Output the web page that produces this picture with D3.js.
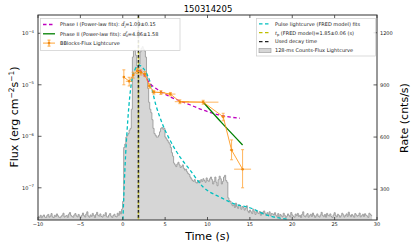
<!DOCTYPE html>
<html>
<head>
<meta charset="utf-8">
<script src="https://cdn.jsdelivr.net/npm/d3@7"></script>
<style>
  body { margin: 0; background: #fff; }
  svg { font-family: "DejaVu Sans", sans-serif; }
</style>
</head>
<body>
<svg id="chart" width="415" height="249"></svg>
<script>
// 128-ms counts lightcurve (cnts/s), bins start at -10 s
const binStart = -10, binWidth = 0.128;
const counts = [
  142,138,150,136,145,152,140,137,148,155,139,146,160,141,137,150,143,158,147,139,
  136,144,151,162,140,145,149,138,157,166,150,143,139,152,160,147,141,155,145,138,
  150,163,148,140,157,170,146,139,152,144,161,149,137,154,167,150,145,158,143,140,
  153,148,165,142,139,151,160,145,138,149,156,144,141,162,150,172,158,185,
  230,540,560,600,610,620,640,650,760,1060,1095,1100,1070,1010,1000,1020,
  1090,1110,1120,1105,1095,1060,950,880,800,760,740,700,650,620,610,600,
  600,610,630,650,655,645,650,600,590,580,570,560,540,510,490,
  450,440,430,445,455,440,425,430,440,420,410,415,400,390,385,
  370,360,350,345,355,340,335,345,350,
  340,355,345,360,350,340,365,350,345,360,370,355,
  330,345,370,340,320,355,375,360,330,345,370,380,350,340,
  250,235,230,
  215,205,210,195,220,200,190,210,205,185,200,195,180,190,205,
  175,165,180,170,160,185,170,155,175,165,160,172,150,168,158,175,162,150,165,155,170,148,160,158,152,165,
  150,142,160,138,155,147,141,162,150,137,145,158,149,140,166,152,144,139,157,148,
  161,143,150,137,155,170,146,141,152,160,139,148,156,143,163,150,138,147,158,145,
  140,152,167,149,142,155,139,161,150,146,158,143,137,152,165,148,141,156,150,139,
  147,162,153,140,149,158,144,168,151,142,155,147,139,160,152,145,150,163,141,
  148,156,143,159,150,146,138,162,155,148
];

// BBlocks flux points (erg cm^-2 s^-1)
const bbTime   = [0.13, 0.76, 1.23, 1.72, 2.14, 2.6, 3.14, 3.67, 4.5, 5.62, 6.74, 9.49, 11.85, 12.84, 14.14];
const bbTimeLo = [0.1, 0.4, 0.15, 0.2, 0.2, 0.25, 0.25, 0.3, 0.5, 0.6, 0.6, 2.7, 0.25, 0.2, 1.0];
const bbTimeHi = [0.1, 0.4, 0.15, 0.2, 0.2, 0.25, 0.25, 0.3, 0.5, 0.6, 1.1, 1.8, 0.25, 0.2, 1.0];
const bbFlux   = [1.41e-5, 1.17e-5, 1.55e-5, 1.86e-5, 1.74e-5, 1.62e-5, 9.5e-6, 7.2e-6, 7.1e-6, 6.6e-6, 4.7e-6, 4.6e-6, 2.4e-6, 5.4e-7, 2.3e-7];
const bbFluxLo = [1.0e-5, 0.95e-5, 1.35e-5, 1.65e-5, 1.55e-5, 1.45e-5, 8.6e-6, 6.6e-6, 6.5e-6, 6.1e-6, 4.3e-6, 4.2e-6, 2.0e-6, 3.5e-7, 1.0e-7];
const bbFluxHi = [1.95e-5, 1.4e-5, 1.75e-5, 2.05e-5, 1.95e-5, 1.8e-5, 1.05e-5, 7.8e-6, 7.7e-6, 7.1e-6, 5.1e-6, 5.0e-6, 2.8e-6, 8.5e-7, 5.5e-7];

// FRED pulse fit
const fredTime = [0.02, 0.25, 0.6, 1.07, 1.43, 1.9, 2.37, 3.2, 3.9, 4.73, 5.56, 6.74, 7.92, 9.45, 11.46, 13.5, 15.0, 17.0, 19.4];
const fredFlux = [2.4e-8, 2.2e-7, 2.1e-6, 1.23e-5, 1.95e-5, 2.4e-5, 2.14e-5, 1.17e-5, 4.1e-6, 1.66e-6, 8.5e-7, 4.0e-7, 2.24e-7, 1.05e-7, 6.6e-8, 4.7e-8, 4.1e-8, 2.95e-8, 2.45e-8];

// Phase I / Phase II power-law fits
const p1Time = [2.0, 2.6, 3.2, 4.38, 5.56, 7.92, 9.45, 11.46, 13.82];
const p1Flux = [1.95e-5, 1.48e-5, 1.07e-5, 7.6e-6, 5.9e-6, 4.1e-6, 3.24e-6, 2.57e-6, 2.24e-6];
const p2Time = [9.49, 11.8, 14.14];
const p2Flux = [4.6e-6, 1.74e-6, 6.8e-7];

const tPeak = 1.85;
const xTicks = [-10, -5, 0, 5, 10, 15, 20, 25, 30];
const yTicksL = [-7, -6, -5, -4];
const yTicksR = [300, 600, 900, 1200];

const legendLeft = [
  { key: "p1", label: "Phase I (Power-law fits): ", val: "=1.09\u00b10.15", sub: "I" },
  { key: "p2", label: "Phase II (Power-law fits): ", val: "=4.86\u00b11.58", sub: "II" },
  { key: "bb", label: "BBlocks-Flux Lightcurve" }
];
const legendRight = [
  { key: "fred", label: "Pulse lightcurve (FRED model) fits" },
  { key: "tp", label: " (FRED model)=1.85\u00b10.06 (s)" },
  { key: "decay", label: "Used decay time" },
  { key: "hist", label: "128-ms Counts-Flux Lightcurve" }
];

const svg = d3.select("#chart");
const L = 38, R = 377, T = 15, B = 220;

const x = d3.scaleLinear().domain([-10, 30]).range([L, R]);
const yL = d3.scaleLog().domain([Math.pow(10, -7.625), Math.pow(10, -3.645)]).range([B, T]);
const yR = d3.scaleLinear().domain([123, 1302]).range([B, T]);

const col = { m: "#bf00bf", g: "#008000", c: "#00bfbf", y: "#bfbf00", o: "#ff9a1f" };

const plot = svg.append("g");
svg.append("clipPath").attr("id", "clip").append("rect")
  .attr("x", L).attr("y", T).attr("width", R - L).attr("height", B - T);
plot.attr("clip-path", "url(#clip)");

// histogram (step)
const steps = [];
counts.forEach((c, i) => {
  const t0 = binStart + i * binWidth;
  steps.push([t0, c], [t0 + binWidth, c]);
});
const area = d3.area().x(d => x(d[0])).y0(B).y1(d => yR(d[1]));
const line = d3.line().x(d => x(d[0])).y(d => yR(d[1]));
plot.append("path").attr("d", area(steps)).attr("fill", "#d6d6d6");
plot.append("path").attr("d", line(steps)).attr("fill", "none")
  .attr("stroke", "#9a9a9a").attr("stroke-width", 0.9);

// FRED fit
const fl = d3.line().x(d => x(d[0])).y(d => yL(d[1])).curve(d3.curveMonotoneX);
plot.append("path").attr("d", fl(d3.zip(fredTime, fredFlux)))
  .attr("fill", "none").attr("stroke", col.c).attr("stroke-width", 1.3)
  .attr("stroke-dasharray", "3.5,2.5");

// peak time / decay time lines
plot.append("line").attr("x1", x(tPeak)).attr("x2", x(tPeak)).attr("y1", T).attr("y2", B)
  .attr("stroke", "#222").attr("stroke-width", 1.5).attr("stroke-dasharray", "3,2");
plot.append("line").attr("x1", x(tPeak)).attr("x2", x(tPeak)).attr("y1", T).attr("y2", B)
  .attr("stroke", col.y).attr("stroke-width", 1.5).attr("stroke-dasharray", "2,3")
  .attr("stroke-dashoffset", 2.5).attr("opacity", 0.75);

// power-law fits
plot.append("path").attr("d", fl(d3.zip(p1Time, p1Flux)))
  .attr("fill", "none").attr("stroke", col.m).attr("stroke-width", 1.3)
  .attr("stroke-dasharray", "3.5,2.5");
plot.append("path").attr("d", fl(d3.zip(p2Time, p2Flux)))
  .attr("fill", "none").attr("stroke", col.g).attr("stroke-width", 1.3);

// BBlocks
const bb = bbTime.map((t, i) => ({ t, f: bbFlux[i], tl: bbTimeLo[i], th: bbTimeHi[i], fl: bbFluxLo[i], fh: bbFluxHi[i] }));
plot.append("path").attr("d", d3.line().x(d => x(d.t)).y(d => yL(d.f))(bb))
  .attr("fill", "none").attr("stroke", col.o).attr("stroke-width", 0.9);
const eb = plot.append("g").attr("stroke", col.o).attr("stroke-width", 0.9).attr("opacity", 0.8);
eb.selectAll(".h").data(bb).join("line")
  .attr("x1", d => x(d.t - d.tl)).attr("x2", d => x(d.t + d.th))
  .attr("y1", d => yL(d.f)).attr("y2", d => yL(d.f));
eb.selectAll(".v").data(bb).join("line")
  .attr("x1", d => x(d.t)).attr("x2", d => x(d.t))
  .attr("y1", d => yL(d.fl)).attr("y2", d => yL(d.fh));
eb.selectAll(".c1").data(bb).join("line")
  .attr("x1", d => x(d.t) - 1.5).attr("x2", d => x(d.t) + 1.5)
  .attr("y1", d => yL(d.fl)).attr("y2", d => yL(d.fl));
eb.selectAll(".c2").data(bb).join("line")
  .attr("x1", d => x(d.t) - 1.5).attr("x2", d => x(d.t) + 1.5)
  .attr("y1", d => yL(d.fh)).attr("y2", d => yL(d.fh));
plot.selectAll(".pt").data(bb).join("circle")
  .attr("cx", d => x(d.t)).attr("cy", d => yL(d.f)).attr("r", 1.3).attr("fill", "#f08a10");

// frame and ticks
const axC = "#333";
svg.append("rect").attr("x", L).attr("y", T).attr("width", R - L).attr("height", B - T)
  .attr("fill", "none").attr("stroke", axC).attr("stroke-width", 1);
const tk = svg.append("g").attr("stroke", axC).attr("stroke-width", 0.8);
xTicks.forEach(t => {
  tk.append("line").attr("x1", x(t)).attr("x2", x(t)).attr("y1", B).attr("y2", B - 3);
  tk.append("line").attr("x1", x(t)).attr("x2", x(t)).attr("y1", T).attr("y2", T + 3);
});
yTicksL.forEach(e => {
  const yy = yL(Math.pow(10, e));
  tk.append("line").attr("x1", L).attr("x2", L + 3.5).attr("y1", yy).attr("y2", yy);
});
yTicksR.forEach(v => {
  tk.append("line").attr("x1", R).attr("x2", R - 3.5).attr("y1", yR(v)).attr("y2", yR(v));
});

const tl = svg.append("g").attr("font-size", 5).attr("fill", "#222");
xTicks.forEach(t => {
  tl.append("text").attr("x", x(t)).attr("y", B + 6).attr("text-anchor", "middle")
    .text(t < 0 ? "\u2212" + Math.abs(t) : t);
});
yTicksL.forEach(e => {
  const yy = yL(Math.pow(10, e));
  const tx = tl.append("text").attr("x", L - 4).attr("y", yy + 2).attr("text-anchor", "end");
  tx.append("tspan").text("10");
  tx.append("tspan").attr("dy", -2.5).attr("font-size", 3.8).text("\u2212" + Math.abs(e));
});
yTicksR.forEach(v => {
  tl.append("text").attr("x", R + 3).attr("y", yR(v) + 2).text(v);
});

// titles
svg.append("text").attr("x", 208).attr("y", 12).attr("text-anchor", "middle")
  .attr("font-size", 8.5).text("150314205");
svg.append("text").attr("x", x(10)).attr("y", 240).attr("text-anchor", "middle")
  .attr("font-size", 11).text("Time (s)");
const yl = svg.append("text").attr("transform", "translate(18,117) rotate(-90)")
  .attr("text-anchor", "middle").attr("font-size", 11);
yl.append("tspan").text("Flux (erg cm");
yl.append("tspan").attr("dy", -4).attr("font-size", 7.5).text("\u22122");
yl.append("tspan").attr("dy", 4).text("s");
yl.append("tspan").attr("dy", -4).attr("font-size", 7.5).text("\u22121");
yl.append("tspan").attr("dy", 4).text(")");
svg.append("text").attr("transform", "translate(408,118) rotate(-90)")
  .attr("text-anchor", "middle").attr("font-size", 11).text("Rate (cnts/s)");

// left legend
const lg = svg.append("g");
lg.append("rect").attr("x", 40.5).attr("y", 18.5).attr("width", 139.5).attr("height", 32)
  .attr("fill", "#fff").attr("fill-opacity", 0.85).attr("stroke", "#ccc").attr("stroke-width", 0.7);
legendLeft.forEach((d, i) => {
  const yy = 24.5 + i * 9.3;
  if (d.key === "p1") lg.append("line").attr("x1", 43).attr("x2", 55).attr("y1", yy).attr("y2", yy)
    .attr("stroke", col.m).attr("stroke-width", 1.3).attr("stroke-dasharray", "3.5,2.5");
  if (d.key === "p2") lg.append("line").attr("x1", 43).attr("x2", 55).attr("y1", yy).attr("y2", yy)
    .attr("stroke", col.g).attr("stroke-width", 1.3);
  if (d.key === "bb") {
    const g = lg.append("g").attr("stroke", col.o).attr("stroke-width", 0.9);
    g.append("line").attr("x1", 43).attr("x2", 55).attr("y1", yy).attr("y2", yy);
    g.append("line").attr("x1", 49).attr("x2", 49).attr("y1", yy - 3).attr("y2", yy + 3);
    g.append("line").attr("x1", 47.5).attr("x2", 50.5).attr("y1", yy - 3).attr("y2", yy - 3);
    g.append("line").attr("x1", 47.5).attr("x2", 50.5).attr("y1", yy + 3).attr("y2", yy + 3);
    lg.append("circle").attr("cx", 49).attr("cy", yy).attr("r", 1.3).attr("fill", "#f08a10");
  }
  const tx = lg.append("text").attr("x", 60).attr("y", yy + 1.8).attr("font-size", 5).attr("fill", "#222");
  tx.append("tspan").text(d.label);
  if (d.sub) {
    tx.append("tspan").attr("font-style", "italic").text("\u03b1");
    tx.append("tspan").attr("dy", 1.3).attr("font-size", 3.6).attr("font-style", "italic").text(d.sub);
    tx.append("tspan").attr("dy", -3.2).attr("dx", -2.5).attr("font-size", 3.6).attr("font-style", "italic").text("F");
    tx.append("tspan").attr("dy", 1.9).text(d.val);
  }
});

// right legend
const rg = svg.append("g");
rg.append("rect").attr("x", 256.5).attr("y", 18.5).attr("width", 119).attr("height", 37.5)
  .attr("fill", "#fff").attr("fill-opacity", 0.85).attr("stroke", "#ccc").attr("stroke-width", 0.7);
legendRight.forEach((d, i) => {
  const yy = 23.8 + i * 8.9;
  if (d.key === "fred") rg.append("line").attr("x1", 259).attr("x2", 271).attr("y1", yy).attr("y2", yy)
    .attr("stroke", col.c).attr("stroke-width", 1.3).attr("stroke-dasharray", "3.5,2.5");
  if (d.key === "tp") rg.append("line").attr("x1", 259).attr("x2", 271).attr("y1", yy).attr("y2", yy)
    .attr("stroke", col.y).attr("stroke-width", 1.3).attr("stroke-dasharray", "3.5,2.5");
  if (d.key === "decay") rg.append("line").attr("x1", 259).attr("x2", 271).attr("y1", yy).attr("y2", yy)
    .attr("stroke", "#222").attr("stroke-width", 1.3).attr("stroke-dasharray", "3.5,2.5");
  if (d.key === "hist") rg.append("rect").attr("x", 259).attr("y", yy - 2.2).attr("width", 12).attr("height", 4.4)
    .attr("fill", "#d6d6d6").attr("stroke", "#9a9a9a").attr("stroke-width", 0.6);
  const tx = rg.append("text").attr("x", 275).attr("y", yy + 1.8).attr("font-size", 5).attr("fill", "#222");
  if (d.key === "tp") {
    tx.append("tspan").attr("font-style", "italic").text("t");
    tx.append("tspan").attr("dy", 1.2).attr("font-size", 3.6).text("p");
    tx.append("tspan").attr("dy", -1.2).text(d.label);
  } else tx.text(d.label);
});
</script>
</body>
</html>
